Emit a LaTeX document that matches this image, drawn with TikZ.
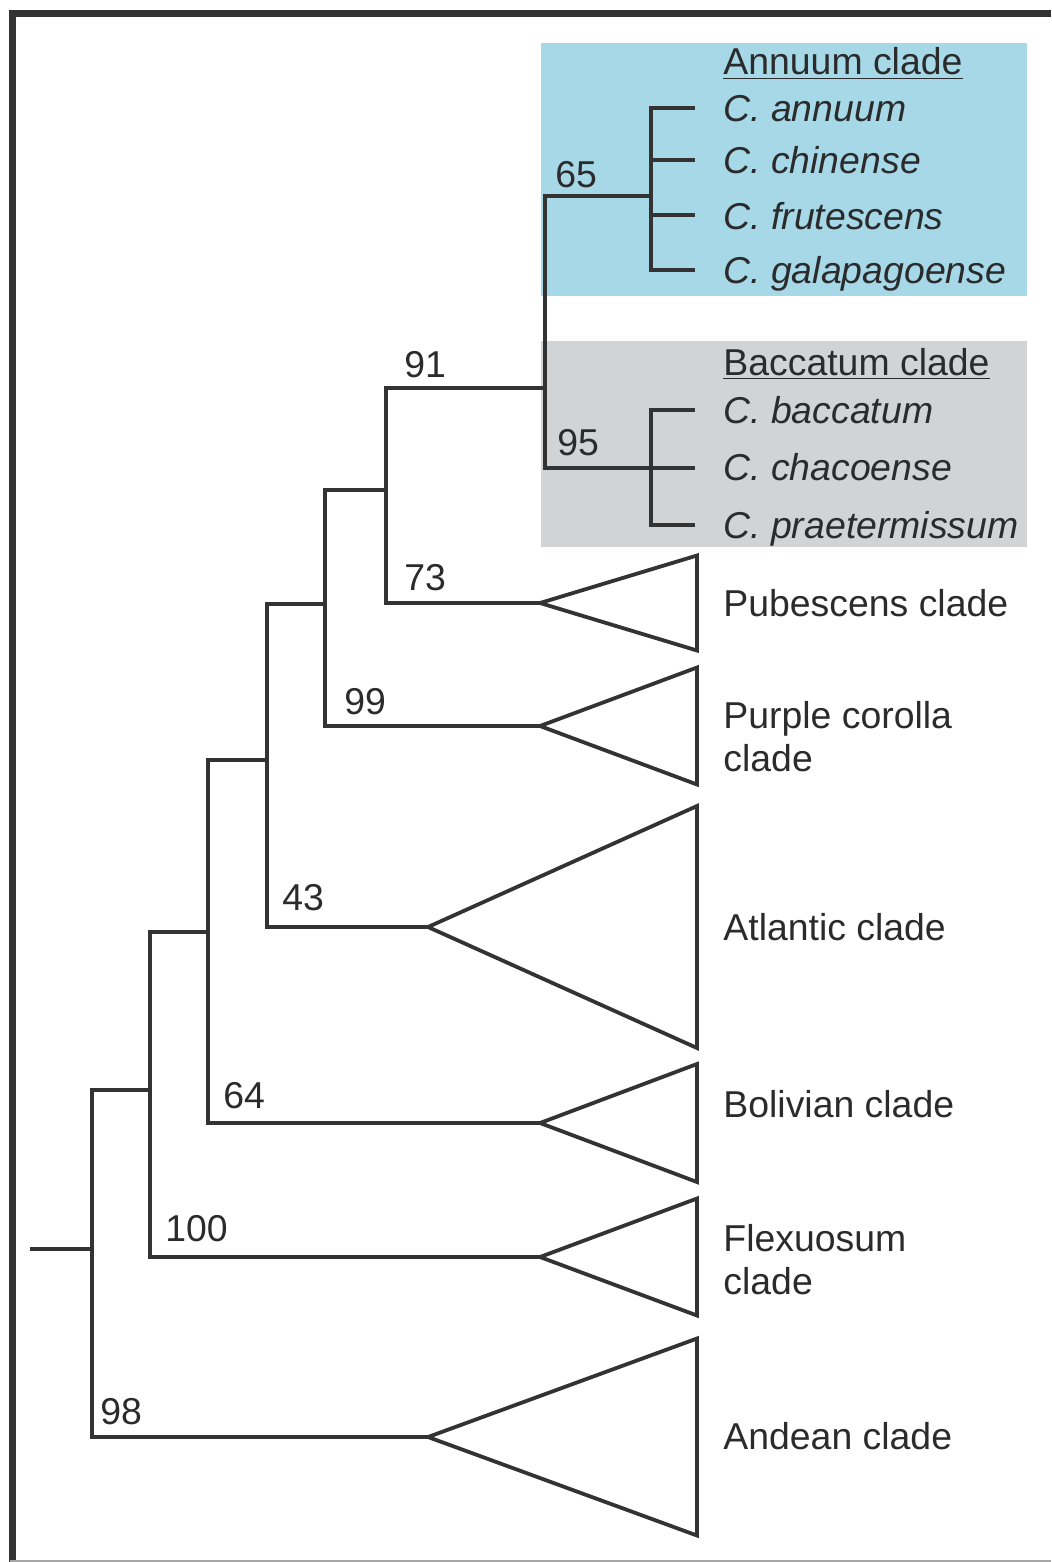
\documentclass[tikz,border=0pt]{standalone}
\usepackage{fontspec}
\setmainfont{Liberation Sans}
\usetikzlibrary{calc}
\definecolor{linec}{RGB}{51,51,51}
\definecolor{textc}{RGB}{43,43,43}
\definecolor{annuumc}{RGB}{166,216,232}
\definecolor{baccc}{RGB}{209,211,212}
\begin{document}
\begin{tikzpicture}[x=0.5pt, y=-0.5pt,
  branch/.style={draw=linec, line width=1.9pt},
  clab/.style={anchor=base west, inner sep=0pt, text=textc, align=left,
    font=\fontsize{18.7}{21.5}\selectfont},
  sp/.style={clab, font=\fontsize{18.7}{21.5}\selectfont\itshape},
  bs/.style={clab}]
  \useasboundingbox (0,0) rectangle (1051,1562);
  \fill[annuumc] (541,43) rectangle (1027,296);
  \fill[baccc] (541,341) rectangle (1027,547);
  \draw[linec, line width=3.5pt] (12.5,1562) -- (12.5,13.5) -- (1051,13.5);
  \draw[gray!70, line width=1pt] (10,1560.5) -- (1051,1560.5);
  \coordinate (stub) at (30,1249);
  \coordinate (n1) at (92,1249);
  \coordinate (n2) at (150,1090);
  \coordinate (n3) at (208,932);
  \coordinate (n4) at (267,760);
  \coordinate (n5) at (325,604);
  \coordinate (n6) at (386,490);
  \coordinate (n7) at (545,388);
  \coordinate (nann) at (651,196);
  \coordinate (nbac) at (651,468);
  \coordinate (andean) at (428,1437);
  \coordinate (flexuosum) at (540,1257);
  \coordinate (bolivian) at (540,1123);
  \coordinate (atlantic) at (428,927);
  \coordinate (purple) at (540,726);
  \coordinate (pubescens) at (540,603);
  \coordinate (edge) at (697,0);
  \foreach \n/\y in {ann1/108, ann2/160, ann3/215, ann4/270, bac1/410, bac2/468, bac3/525}
    \coordinate (\n) at (695,\y);
  \draw[branch] (stub) -- (n1);
  \draw[branch] (n1) |- (n2) (n1) |- (andean);
  \draw[branch] (n2) |- (n3) (n2) |- (flexuosum);
  \draw[branch] (n3) |- (n4) (n3) |- (bolivian);
  \draw[branch] (n4) |- (n5) (n4) |- (atlantic);
  \draw[branch] (n5) |- (n6) (n5) |- (purple);
  \draw[branch] (n6) |- (n7) (n6) |- (pubescens);
  \draw[branch] (n7) |- (nann) (n7) |- (nbac);
  \foreach \n in {ann1, ann2, ann3, ann4}
    \draw[branch] (nann) |- (\n);
  \foreach \n in {bac1, bac2, bac3}
    \draw[branch] (nbac) |- (\n);
  \foreach \t/\h in {andean/98.5, flexuosum/58.5, bolivian/59, atlantic/121, purple/58.5, pubescens/47.5}
    \draw[branch] (\t) -- ($(\t -| edge)+(0,-\h)$) -- ($(\t -| edge)+(0,\h)$) -- cycle;
  \node[bs] (s98) at (100,1424) {98};
  \node[bs] (s100) at (165,1241) {100};
  \node[bs] (s64) at (223,1108) {64};
  \node[bs] (s43) at (282,910) {43};
  \node[bs] (s99) at (344,714) {99};
  \node[bs] (s73) at (404,590) {73};
  \node[bs] (s91) at (404,377) {91};
  \node[bs] (s65) at (555,188) {65};
  \node[bs] (s95) at (557,455) {95};
  \node[clab] (annt) at (723,75) {\underline{Annuum clade}};
  \node[sp] (sann) at (723,122) {C. annuum};
  \node[sp] (schi) at (723,174) {C. chinense};
  \node[sp] (sfru) at (723,229) {C. frutescens};
  \node[sp] (sgal) at (723,283) {C. galapagoense};
  \node[clab] (bact) at (723,375) {\underline{Baccatum clade}};
  \node[sp] (sbac) at (723,423) {C. baccatum};
  \node[sp] (scha) at (723,480) {C. chacoense};
  \node[sp] (spra) at (723,538) {C. praetermissum};
  \node[clab] (pubt) at (723,616) {Pubescens clade};
  \node[clab] (purt) at (723,771) {Purple corolla\\clade};
  \node[clab] (atlt) at (723,940) {Atlantic clade};
  \node[clab] (bolt) at (723,1117) {Bolivian clade};
  \node[clab] (flxt) at (723,1294) {Flexuosum\\clade};
  \node[clab] (andt) at (723,1449) {Andean clade};
\end{tikzpicture}
\end{document}
